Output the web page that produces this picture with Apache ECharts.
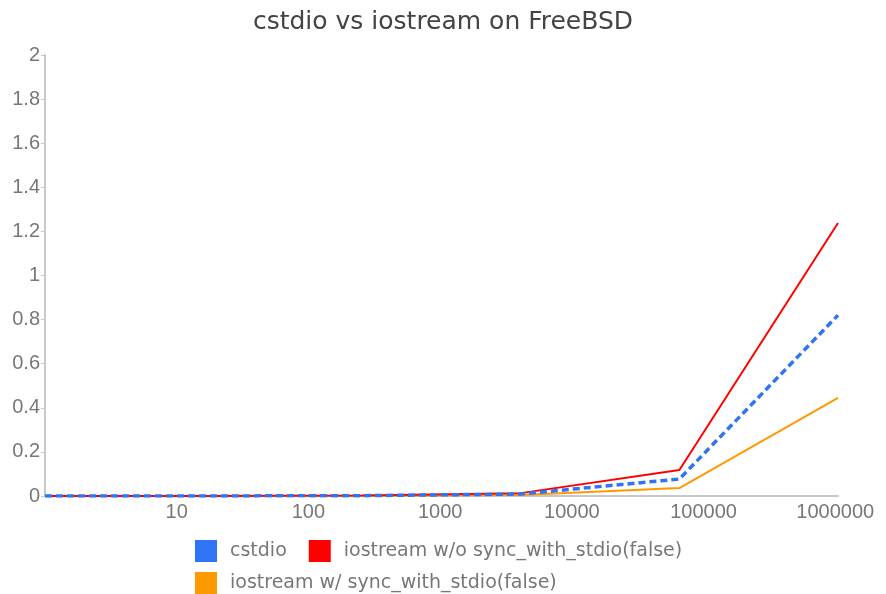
<!DOCTYPE html>
<html>
<head>
<meta charset="utf-8">
<script src="https://cdn.jsdelivr.net/npm/echarts@6/dist/echarts.min.js"></script>
<style>
  html, body { margin: 0; padding: 0; background: #fff; }
  #main { width: 886px; height: 594px; }
</style>
</head>
<body>
<div id="main"></div>
<script>
// data
var sizes = [1, 16, 256, 4096, 65536, 1048576];
var cstdio = [0.00001, 0.0001, 0.0015, 0.009, 0.077, 0.82];
var noSync = [0.00002, 0.0002, 0.002, 0.013, 0.118, 1.238];
var withSync = [0.00001, 0.0001, 0.001, 0.004, 0.036, 0.445];
var xLabels = [10, 100, 1000, 10000, 100000, 1000000];

function pairs(ys) {
  return sizes.map(function (x, i) { return [x, ys[i]]; });
}

var font = 'Liberation Sans, Arial, sans-serif';
var wideFont = 'DejaVu Sans, Verdana, sans-serif';
var legendText = { fontFamily: wideFont, fontSize: 19, color: '#777', padding: [0, 0, 0, 8] };

var myChart = echarts.init(document.getElementById('main'));
var option = {
  animation: false,
  title: {
    text: 'cstdio vs iostream on FreeBSD',
    left: 'center',
    top: 10,
    padding: 0,
    textStyle: { fontFamily: wideFont, fontSize: 25, fontWeight: 'normal', color: '#444' }
  },
  legend: [
    {
      data: ['cstdio', 'iostream w/o sync_with_stdio(false)'],
      left: 195, top: 540, padding: 0,
      icon: 'rect', itemWidth: 22, itemHeight: 22, itemGap: 22,
      textStyle: legendText
    },
    {
      data: ['iostream w/ sync_with_stdio(false)'],
      left: 195, top: 572, padding: 0,
      icon: 'rect', itemWidth: 22, itemHeight: 22,
      textStyle: legendText
    }
  ],
  grid: { left: 45, right: 48, top: 55, bottom: 98, containLabel: false },
  xAxis: {
    type: 'log',
    logBase: 10,
    min: 1,
    max: 1048576,
    axisLine: { lineStyle: { color: '#c8c8c8', width: 2 } },
    axisTick: { show: false },
    splitLine: { show: false },
    axisLabel: {
      fontFamily: font, fontSize: 20, color: '#777', margin: 6,
      formatter: function (v) {
        return xLabels.indexOf(Math.round(v)) >= 0 ? String(Math.round(v)) : '';
      }
    }
  },
  yAxis: {
    type: 'value',
    min: 0, max: 2, interval: 0.2,
    axisLine: { show: true, lineStyle: { color: '#c8c8c8', width: 2 } },
    axisTick: { show: true, length: 4, lineStyle: { color: '#c8c8c8' } },
    splitLine: { show: false },
    axisLabel: { fontFamily: font, fontSize: 20, color: '#777', margin: 5 }
  },
  series: [
    {
      name: 'cstdio', type: 'line', data: pairs(cstdio), showSymbol: false,
      color: '#2f74f5', z: 3,
      lineStyle: { width: 3.5, type: [7, 4] }
    },
    {
      name: 'iostream w/o sync_with_stdio(false)', type: 'line', data: pairs(noSync), showSymbol: false,
      color: '#ff0000', z: 2,
      lineStyle: { width: 2 }
    },
    {
      name: 'iostream w/ sync_with_stdio(false)', type: 'line', data: pairs(withSync), showSymbol: false,
      color: '#ff9900', z: 1,
      lineStyle: { width: 2 }
    }
  ]
};
myChart.setOption(option);
</script>
</body>
</html>
